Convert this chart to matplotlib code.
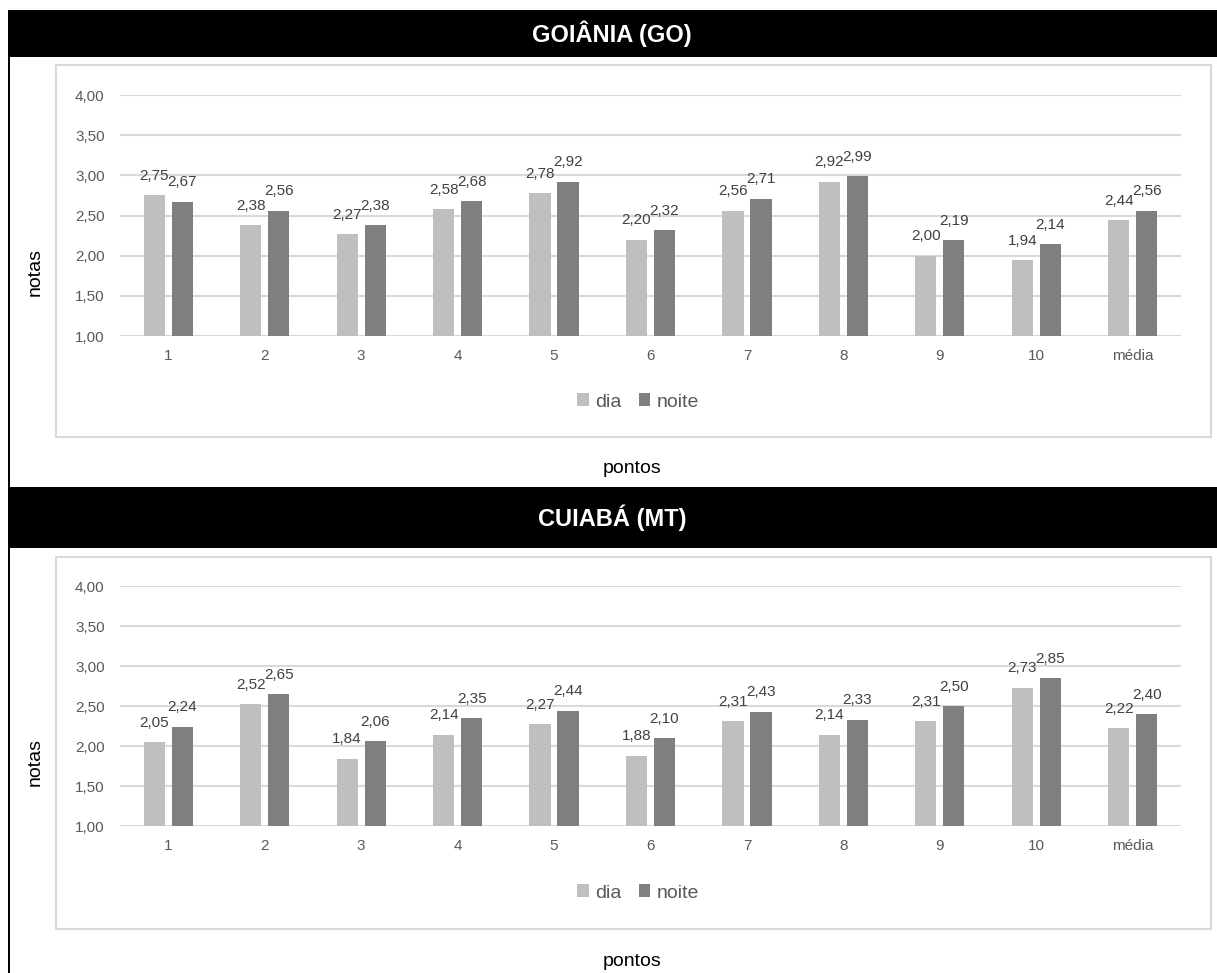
import matplotlib
matplotlib.use("Agg")
import matplotlib.pyplot as plt
from matplotlib.patches import Rectangle, Patch
import numpy as np

plt.rcParams['font.family'] = ['Liberation Sans', 'DejaVu Sans']

categories = ['1', '2', '3', '4', '5', '6', '7', '8', '9', '10', 'média']
titles = ['GOIÂNIA (GO)', 'CUIABÁ (MT)']
goiania_dia = [2.75, 2.38, 2.27, 2.58, 2.78, 2.20, 2.56, 2.92, 2.00, 1.94, 2.44]
goiania_noite = [2.67, 2.56, 2.38, 2.68, 2.92, 2.32, 2.71, 2.99, 2.19, 2.14, 2.56]
cuiaba_dia = [2.05, 2.52, 1.84, 2.14, 2.27, 1.88, 2.31, 2.14, 2.31, 2.73, 2.22]
cuiaba_noite = [2.24, 2.65, 2.06, 2.35, 2.44, 2.10, 2.43, 2.33, 2.50, 2.85, 2.40]
yticks = [1.0, 1.5, 2.0, 2.5, 3.0, 3.5, 4.0]
series_names = ['dia', 'noite']

W, H = 1217, 973
fig = plt.figure(figsize=(W / 100, H / 100), dpi=100)

def fx(px):
    return px / W

def fy(py):
    return 1 - py / H

DAY_C = '#BFBFBF'
NIGHT_C = '#7F7F7F'
GRID_C = '#D9D9D9'
TICK_C = '#595959'
LABEL_C = '#404040'

# left vertical black line
fig.patches.append(Rectangle((fx(8), 0), fx(2), fy(10), transform=fig.transFigure,
                             facecolor='black', edgecolor='none', zorder=-2))

panels = [
    dict(title=titles[0], dia=goiania_dia, noite=goiania_noite,
         band=(10, 57), frame=(65, 437), ytop=95, ybot=336,
         legend_y=402, xlabel_y=468, ylabel_y=272),
    dict(title=titles[1], dia=cuiaba_dia, noite=cuiaba_noite,
         band=(487, 548), frame=(557, 929), ytop=586, ybot=826,
         legend_y=893, xlabel_y=962, ylabel_y=762),
]

x = np.arange(len(categories))
bw = 0.22
off = 0.145

for p in panels:
    b0, b1 = p['band']
    fig.patches.append(Rectangle((fx(8), fy(b1)), fx(W - 8), (b1 - b0) / H,
                                 transform=fig.transFigure, facecolor='black',
                                 edgecolor='none', zorder=-2))
    fig.text(fx(612), fy((b0 + b1) / 2), p['title'], color='white', fontsize=17,
             fontweight='bold', ha='center', va='center')
    f0, f1 = p['frame']
    fig.patches.append(Rectangle((fx(56), fy(f1)), fx(1211 - 56), (f1 - f0) / H,
                                 transform=fig.transFigure, facecolor='white',
                                 edgecolor=GRID_C, linewidth=1.5, zorder=-2))

    ax = fig.add_axes([fx(120), fy(p['ybot']), fx(1181 - 120), (p['ybot'] - p['ytop']) / H])
    ax.set_zorder(5)
    ax.set_facecolor('none')
    ax.set_xlim(-0.5, len(categories) - 0.5)
    ax.set_ylim(1.0, 4.0)
    ax.set_yticks(yticks)
    ax.set_yticklabels([f"{t:.2f}".replace('.', ',') for t in yticks])
    ax.set_xticks(x)
    ax.set_xticklabels(categories)
    ax.tick_params(axis='both', length=0, colors=TICK_C, labelsize=11)
    ax.tick_params(axis='y', pad=11)
    ax.tick_params(axis='x', pad=9)
    for s in ax.spines.values():
        s.set_visible(False)
    ax.grid(axis='y', color=GRID_C, linewidth=1.5)
    ax.set_axisbelow(True)

    ax.bar(x - off, p['dia'], bw, bottom=0, color=DAY_C, zorder=3)
    ax.bar(x + off, p['noite'], bw, bottom=0, color=NIGHT_C, zorder=3)
    for xs, vals in ((x - off, p['dia']), (x + off, p['noite'])):
        for xi, v in zip(xs, vals):
            ax.annotate(f"{v:.2f}".replace('.', ','), (xi, v), xytext=(0, 14),
                        textcoords='offset points', ha='center', va='center',
                        fontsize=11, color=LABEL_C)

    handles = [Patch(facecolor=DAY_C, edgecolor='none'), Patch(facecolor=NIGHT_C, edgecolor='none')]
    leg = fig.legend(handles, series_names, loc='center', ncol=2, frameon=False,
                     bbox_to_anchor=(fx(638), fy(p['legend_y'])),
                     handlelength=0.6, handleheight=0.6, handletextpad=0.3,
                     columnspacing=0.9, fontsize=14)
    for t in leg.get_texts():
        t.set_color(TICK_C)

    fig.text(fx(632), fy(p['xlabel_y']), 'pontos', fontsize=14, color='black',
             ha='center', va='center')
    fig.text(fx(35), fy(p['ylabel_y']), 'notas', fontsize=14, color='black',
             ha='center', va='center', rotation=90)

fig.savefig('out.png', dpi=100)
